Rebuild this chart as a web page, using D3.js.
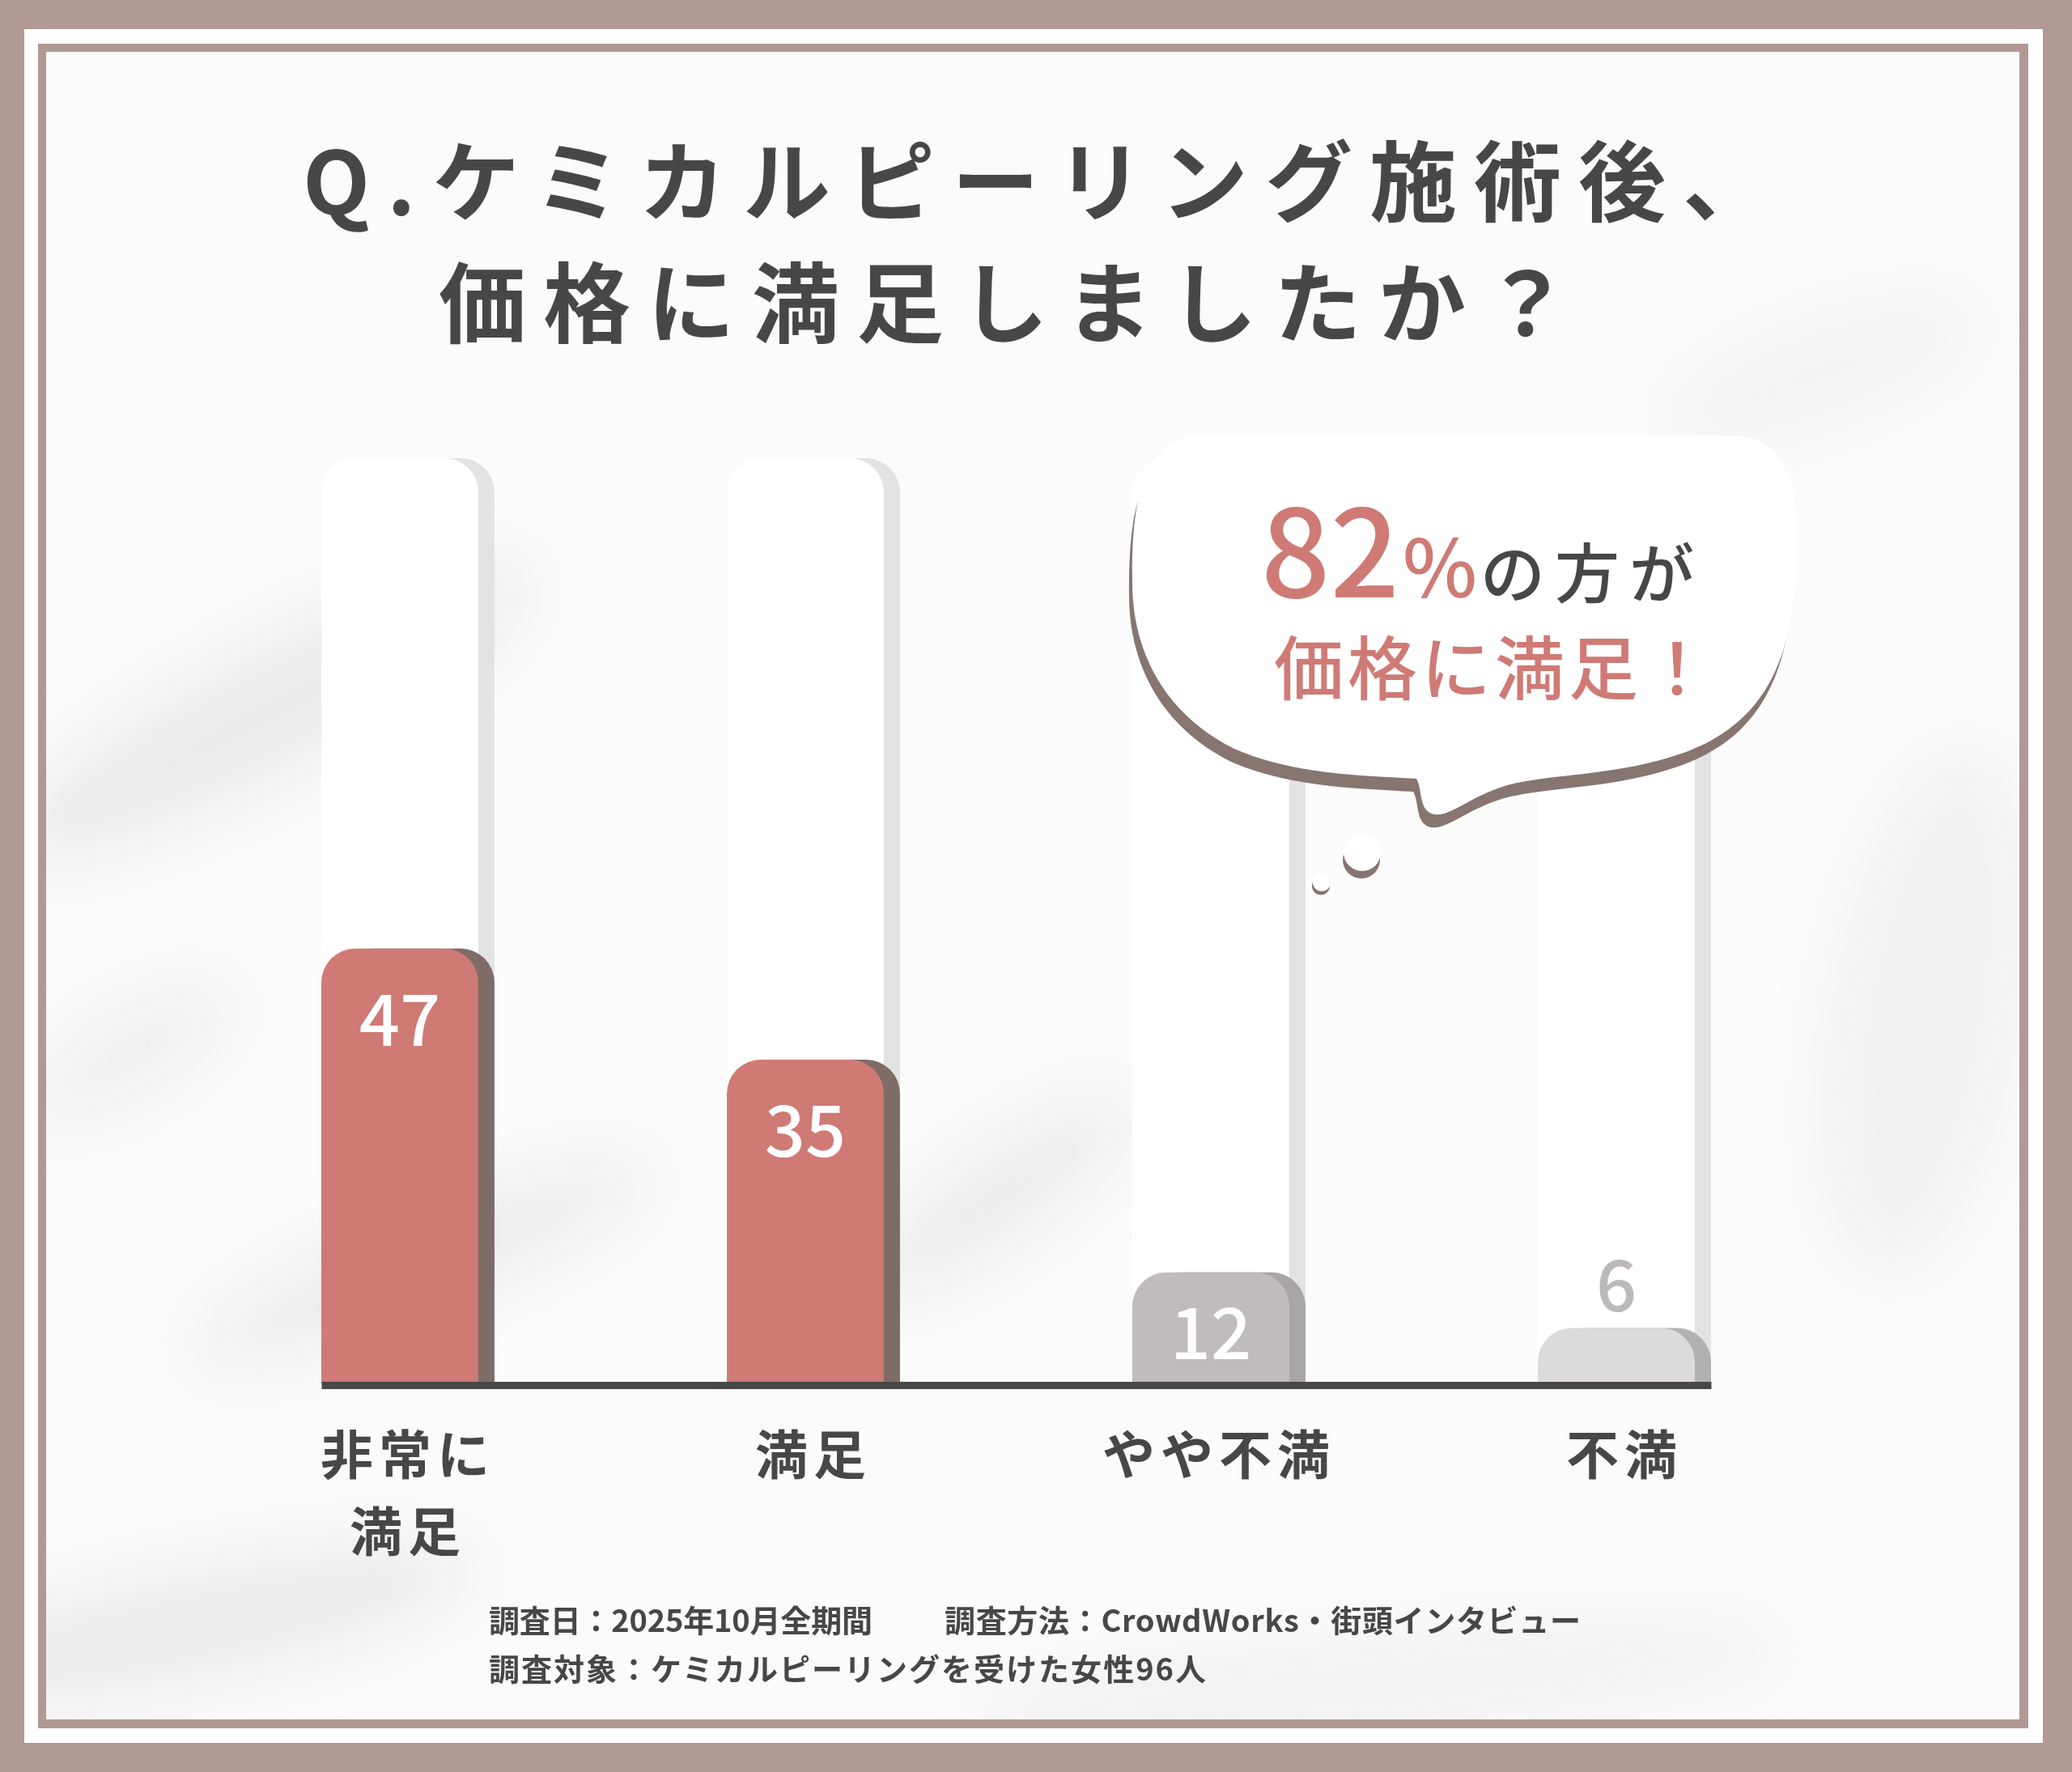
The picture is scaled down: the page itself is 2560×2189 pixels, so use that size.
<!DOCTYPE html>
<html><head><meta charset="utf-8">
<script src="https://cdn.jsdelivr.net/npm/d3@7"></script>
<style>
html,body{margin:0;padding:0;background:#b09a93;}
svg{display:block;}
</style></head><body>
<svg id="chart" width="2560" height="2189"></svg>
<script>
// ---------- data ----------
const categories = ["非常に満足", "満足", "やや不満", "不満"];
const categoryLines = [["非常に", "満足"], ["満足"], ["やや不満"], ["不満"]];
const values = [47, 35, 12, 6];
const yDomain = [0, 100];
const titleLines = ["Q.ケミカルピーリング施術後、", "価格に満足しましたか？"];
const calloutSuffix = "の方が";
const calloutLine2 = "価格に満足！";
const footerA = "調査日：2025年10月全期間";
const footerB = "調査方法：CrowdWorks・街頭インタビュー";
const footerC = "調査対象：ケミカルピーリングを受けた女性96人";

// ---------- styles ----------
const FONT = "'Noto Sans CJK JP', 'Noto Sans', sans-serif";
const BROWN = "#b09a93";
const TEXT = "#474747";
const RED = "#cf7a75";
const faceColors = ["#cf7a75", "#cf7a75", "#c0bcbb", "#dddbda"];
const shadowColors = ["#7f6c67", "#7f6c67", "#a9a6a5", "#b3b1b0"];

const W = 2560, H = 2189;
const svg = d3.select("#chart");

// ---------- frame ----------
svg.append("rect").attr("width", W).attr("height", H).attr("fill", BROWN);
svg.append("rect").attr("x", 30).attr("y", 36).attr("width", 2524 - 30).attr("height", 2153 - 36).attr("fill", "#fefefe");
svg.append("rect").attr("x", 47).attr("y", 54).attr("width", 2506 - 47).attr("height", 2135 - 54).attr("fill", BROWN);
svg.append("rect").attr("x", 57).attr("y", 64).attr("width", 2495 - 57).attr("height", 2124 - 64).attr("fill", "#fbfbfb");

// subtle marble texture
const defs = svg.append("defs");
defs.append("filter").attr("id", "blur").attr("x", "-50%").attr("y", "-50%").attr("width", "200%").attr("height", "200%")
  .append("feGaussianBlur").attr("stdDeviation", 38);
defs.append("clipPath").attr("id", "inner").append("rect").attr("x", 57).attr("y", 64).attr("width", 2495 - 57).attr("height", 2124 - 64);
const tex = svg.append("g").attr("clip-path", "url(#inner)").append("g").attr("filter", "url(#blur)");
const blobs = [
  [330, 880, 360, 80, -28, 0.45], [520, 1560, 300, 60, -22, 0.4], [230, 2010, 360, 70, -12, 0.45],
  [2380, 1250, 110, 320, 10, 0.3], [1230, 1480, 200, 60, -35, 0.4], [1700, 2080, 500, 50, -5, 0.3],
  [160, 1300, 140, 50, -30, 0.35], [2250, 460, 200, 60, -20, 0.22]
];
blobs.forEach(b => tex.append("ellipse").attr("cx", b[0]).attr("cy", b[1]).attr("rx", b[2]).attr("ry", b[3])
  .attr("transform", `rotate(${b[4]},${b[0]},${b[1]})`).attr("fill", "#d8d8d8").attr("opacity", b[5]));

// ---------- title ----------
const title = svg.append("g").attr("font-family", FONT).attr("font-weight", 700).attr("fill", TEXT).attr("font-size", 108);
title.append("text").attr("x", 374).attr("y", 265).attr("letter-spacing", 21).text(titleLines[0]);
title.append("text").attr("x", 542).attr("y", 415).attr("letter-spacing", 21).text(titleLines[1]);

// ---------- scales ----------
const x = d3.scaleBand().domain(categories).range([397, 2114]).paddingInner(0.573).paddingOuter(0);
const y = d3.scaleLinear().domain(yDomain).range([1709, 566]);
const SH = 20, R = 42;
const faceW = x.bandwidth() - SH;

function topRounded(x0, x1, yTop, yBot, r) {
  r = Math.min(r, (x1 - x0) / 2, yBot - yTop);
  const p = d3.path();
  p.moveTo(x0, yBot);
  p.lineTo(x0, yTop + r);
  p.arcTo(x0, yTop, x0 + r, yTop, r);
  p.lineTo(x1 - r, yTop);
  p.arcTo(x1, yTop, x1, yTop + r, r);
  p.lineTo(x1, yBot);
  p.closePath();
  return p.toString();
}

const data = categories.map((c, i) => ({ c, v: values[i], i }));

// tracks (100% background)
const tracks = svg.append("g");
tracks.selectAll(".tshadow").data(data).join("path")
  .attr("d", d => topRounded(x(d.c) + SH, x(d.c) + x.bandwidth(), y(yDomain[1]), y(0), R))
  .attr("fill", "#e3e3e3");
tracks.selectAll(".tface").data(data).join("path")
  .attr("d", d => topRounded(x(d.c), x(d.c) + faceW, y(yDomain[1]), y(0), R))
  .attr("fill", "#ffffff");

// bars
const bars = svg.append("g");
bars.selectAll(".bshadow").data(data).join("path")
  .attr("d", d => topRounded(x(d.c) + SH, x(d.c) + x.bandwidth(), y(d.v), y(0), R))
  .attr("fill", d => shadowColors[d.i]);
bars.selectAll(".bface").data(data).join("path")
  .attr("d", d => topRounded(x(d.c), x(d.c) + faceW, y(d.v), y(0), R))
  .attr("fill", d => faceColors[d.i]);

// value labels
svg.append("g").attr("font-family", FONT).attr("font-weight", 500).attr("font-size", 88).attr("text-anchor", "middle")
  .selectAll("text").data(data).join("text")
  .attr("x", d => x(d.c) + faceW / 2)
  .attr("y", d => (y(0) - y(d.v) > 100) ? Math.min(y(d.v) + 120, y(0) - 30) : y(d.v) - 20)
  .attr("fill", d => (y(0) - y(d.v) > 100) ? "#ffffff" : "#bcb9b8")
  .text(d => d.v);

// axis
const axis = svg.append("g").attr("transform", `translate(0,${y(0) + 2})`)
  .call(d3.axisBottom(x).tickSize(0).tickSizeOuter(0));
axis.select(".domain").attr("stroke", "#474747").attr("stroke-width", 9);
axis.selectAll(".tick text").remove();
axis.selectAll(".tick").each(function (c) {
  const lines = categoryLines[categories.indexOf(c)];
  lines.forEach((ln, k) => d3.select(this).append("text")
    .attr("font-family", FONT).attr("font-weight", 700).attr("font-size", 65)
    .attr("fill", TEXT).attr("text-anchor", "middle").attr("letter-spacing", 7)
    .attr("x", 0).attr("y", 110 + k * 95).text(ln));
});

// ---------- callout bubble ----------
const bubblePath = "M1490,538 L2140,538 C2196,538 2218,582 2220,650 C2223,800 2190,890 2080,930 C2000,958 1930,955 1870,968 C1820,980 1792,1010 1772,1006 C1752,1002 1758,975 1750,962 C1690,958 1600,958 1525,925 C1435,880 1399,800 1399,720 C1398,620 1410,538 1490,538 Z";
const bubble = svg.append("g");
bubble.append("path").attr("d", bubblePath).attr("fill", "#877570").attr("transform", "translate(-4,16)");
bubble.append("path").attr("d", bubblePath).attr("fill", "#ffffff");
[[1683, 1053, 23], [1633, 1090, 11]].forEach(d => {
  bubble.append("circle").attr("cx", d[0] - 1).attr("cy", d[1] + d[2] * 0.4).attr("r", d[2]).attr("fill", "#877570");
  bubble.append("circle").attr("cx", d[0]).attr("cy", d[1]).attr("r", d[2]).attr("fill", "#ffffff");
});
const pct = d3.sum(values.slice(0, 2));
const c1 = bubble.append("text").attr("x", 1558).attr("y", 738).attr("font-family", FONT).attr("font-weight", 500);
c1.append("tspan").attr("font-size", 150).attr("fill", RED).text(pct);
c1.append("tspan").attr("font-size", 98).attr("fill", RED).attr("dx", 4).text("%");
c1.append("tspan").attr("font-size", 80).attr("fill", TEXT).attr("dx", 4).attr("letter-spacing", 12).text(calloutSuffix);
bubble.append("text").attr("x", 1574).attr("y", 858).attr("font-family", FONT).attr("font-weight", 500)
  .attr("font-size", 86).attr("fill", RED).attr("letter-spacing", 5).text(calloutLine2);

// ---------- footer ----------
const foot = svg.append("g").attr("font-family", FONT).attr("font-weight", 700).attr("font-size", 38).attr("fill", TEXT);
foot.append("text").attr("x", 604).attr("y", 2016).attr("textLength", 474).text(footerA);
foot.append("text").attr("x", 1167).attr("y", 2016).attr("textLength", 786).text(footerB);
foot.append("text").attr("x", 604).attr("y", 2076).attr("textLength", 886).text(footerC);
</script>
</body></html>
